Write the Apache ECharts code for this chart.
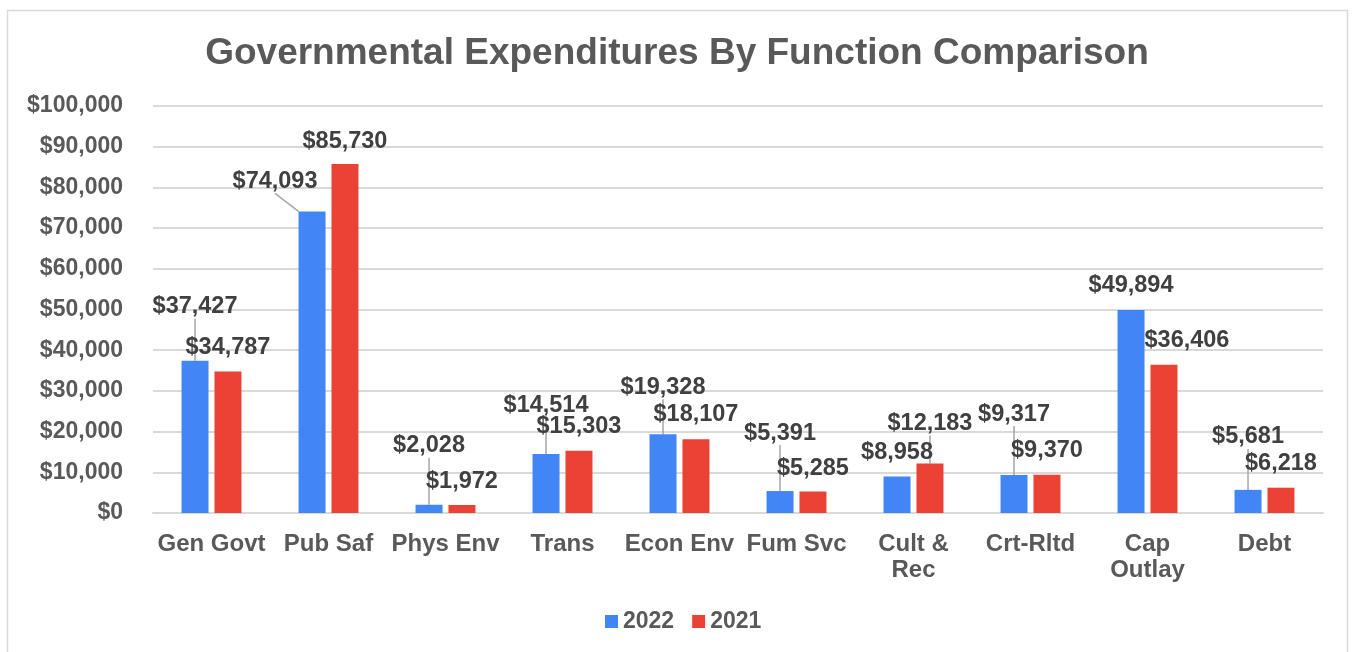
<!DOCTYPE html>
<html><head><meta charset="utf-8">
<script src="https://cdn.jsdelivr.net/npm/echarts@6/dist/echarts.min.js"></script>
<style>html,body{margin:0;padding:0;background:#fff}#c{width:1354px;height:652px}</style>
</head><body><div id="c"></div>
<script>
const categories = ['Gen Govt','Pub Saf','Phys Env','Trans','Econ Env','Fum Svc','Cult &\nRec','Crt-Rltd','Cap\nOutlay','Debt'];
const values2022 = [37427, 74093, 2028, 14514, 19328, 5391, 8958, 9317, 49894, 5681];
const values2021 = [34787, 85730, 1972, 15303, 18107, 5285, 12183, 9370, 36406, 6218];
const seriesNames = ['2022', '2021'];
const yTicks = {min: 0, max: 100000, interval: 10000};

// label shifts (layout only)
const shift2022 = [[0,-37],[-37,-13],[0,-42],[0,-31],[0,-30],[0,-41],[0,-7],[0,-44],[0,-7],[0,-36]];
const shift2021 = [[0,-7],[0,-6],[0,-6],[0,-7],[0,-8],[0,-6],[0,-23],[0,-7],[23,-7],[0,-7]];
const lineOn2022 = [1,1,1,1,1,1,0,1,0,1];
const lineOn2021 = [0,0,0,0,0,0,1,0,0,0];

const fmt = v => '$' + v.toLocaleString('en-US');
const FONT = '"Liberation Sans", Arial, sans-serif';

function mkSeries(name, values, color, shifts, lines) {
  return {
    name, type: 'bar', barWidth: 27, barGap: '22%',
    data: values.map((v, i) => ({value: v, labelLine: {show: !!lines[i]}})),
    itemStyle: {color},
    label: {show: true, position: 'top', distance: 5, formatter: p => fmt(p.value),
      fontFamily: FONT, fontWeight: 'bold', fontSize: 23.5, color: '#404040'},
    labelLine: {lineStyle: {color: '#a6a6a6', width: 1.5}},
    labelLayout: p => {
      const s = shifts[p.dataIndex];
      return {dx: s[0], dy: s[1]};
    }
  };
}

const chart = echarts.init(document.getElementById('c'), null, {renderer: 'canvas'});
chart.setOption({
  animation: false,
  backgroundColor: '#fff',
  graphic: [{type: 'rect', shape: {x: 7.5, y: 10.5, width: 1340, height: 660}, style: {fill: 'none', stroke: '#d9d9d9', lineWidth: 1.5}}],
  title: {text: 'Governmental Expenditures By Function Comparison', left: 'center', top: 30,
    textStyle: {fontFamily: FONT, fontWeight: 'bold', fontSize: 37, color: '#595959'}},
  legend: {bottom: 14, left: 600, itemWidth: 13, itemHeight: 13, itemGap: 18, icon: 'rect',
    textStyle: {fontFamily: FONT, fontWeight: 'bold', fontSize: 23, color: '#595959'}},
  grid: {left: 153, right: 31, top: 106, bottom: 139},
  xAxis: {type: 'category', data: categories,
    axisLine: {lineStyle: {color: '#d9d9d9', width: 2}}, axisTick: {show: false},
    axisLabel: {fontFamily: FONT, fontWeight: 'bold', fontSize: 24, color: '#595959', margin: 18, lineHeight: 26, interval: 0}},
  yAxis: {type: 'value', min: yTicks.min, max: yTicks.max, interval: yTicks.interval,
    axisLine: {show: false}, axisTick: {show: false},
    splitLine: {lineStyle: {color: '#d9d9d9', width: 2}},
    axisLabel: {formatter: v => fmt(v), fontFamily: FONT, fontWeight: 'bold', fontSize: 23, color: '#595959', margin: 30}},
  series: [
    mkSeries(seriesNames[0], values2022, '#4285f4', shift2022, lineOn2022),
    mkSeries(seriesNames[1], values2021, '#ea4335', shift2021, lineOn2021)
  ]
});
</script></body></html>
